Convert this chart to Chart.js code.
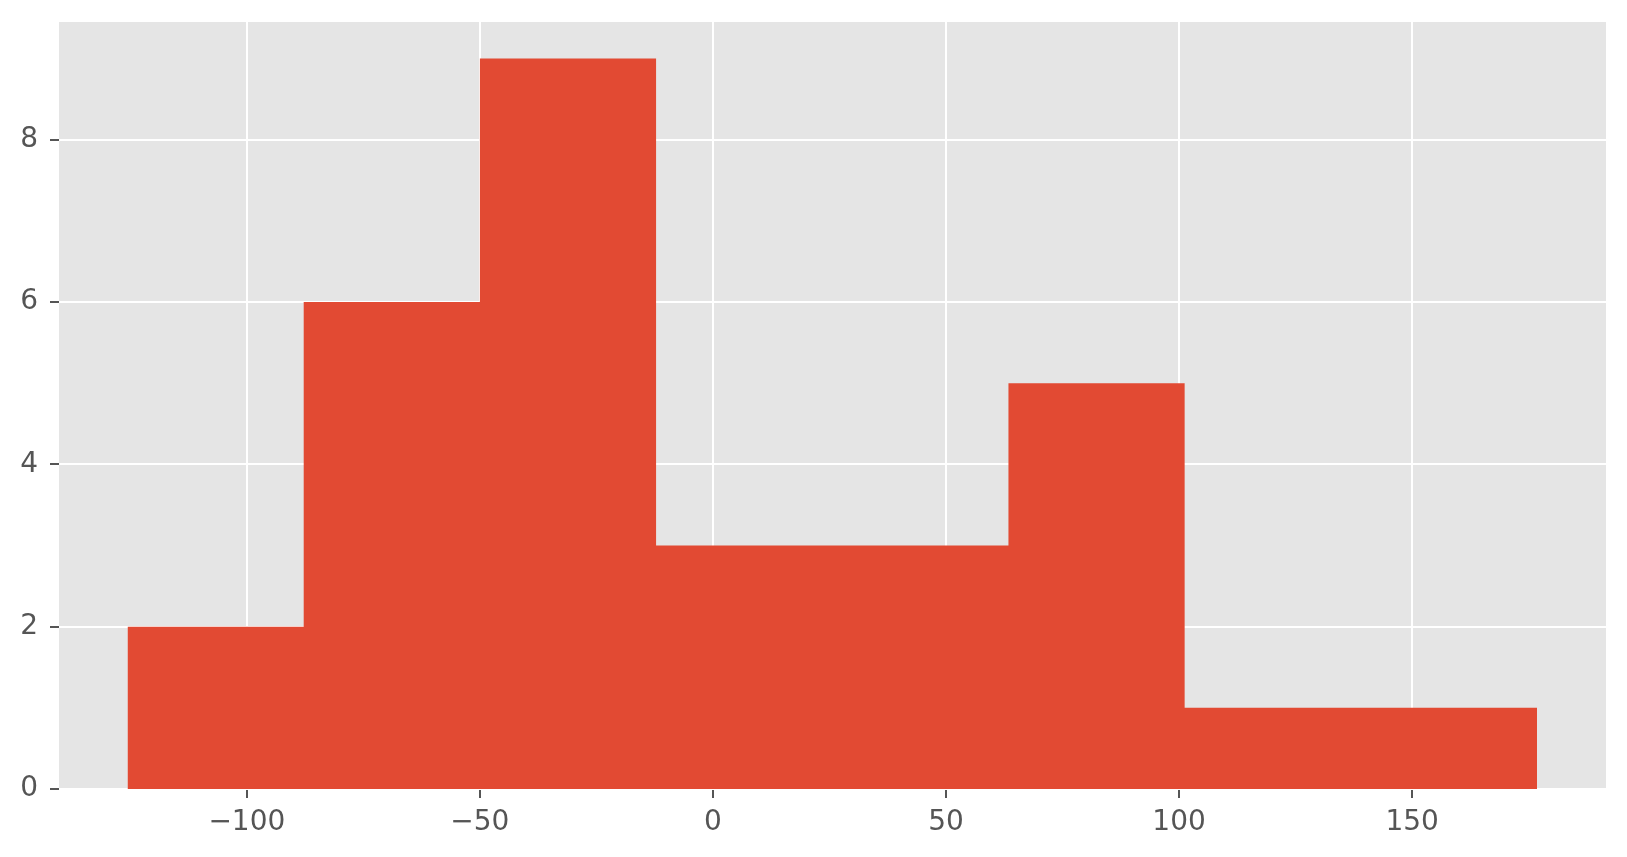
<!DOCTYPE html>
<html>
<head>
<meta charset="utf-8">
<script src="https://cdn.jsdelivr.net/npm/chart.js@4/dist/chart.umd.min.js"></script>
<style>
    html, body { margin: 0; padding: 0; background: #ffffff; }
    #wrap { width: 1627px; height: 857px; }
</style>
</head>
<body>
<div id="wrap"><canvas id="histChart" width="1627" height="857"></canvas></div>
<script>
// histogram bins (edges) and counts
const binEdges = [-125.6, -87.8, -50.0, -12.2, 25.6, 63.4, 101.2, 139.0, 176.8];
const binCounts = [2, 6, 9, 3, 3, 5, 1, 1];
const xTicks = [-100, -50, 0, 50, 100, 150];
const yTicks = [0, 2, 4, 6, 8];

// step outline of the histogram: up from the first edge, across each bin, back down
const outline = [{ x: binEdges[0], y: 0 }];
binCounts.forEach((c, i) => outline.push({ x: binEdges[i], y: c }));
outline.push({ x: binEdges[binEdges.length - 1], y: 0 });

const panelBg = {
    id: 'panelBg',
    beforeDraw(chart) {
        const { ctx, chartArea: a } = chart;
        ctx.save();
        ctx.fillStyle = '#E5E5E5';
        ctx.fillRect(a.left, a.top, a.right - a.left, a.bottom - a.top);
        ctx.restore();
    }
};

const tickFont = { family: 'DejaVu Sans', size: 28 };
const fmt = v => (v < 0 ? '\u2212' + Math.abs(v) : String(v));

new Chart(document.getElementById('histChart').getContext('2d'), {
    type: 'line',
    data: {
        datasets: [{
            data: outline,
            stepped: true,
            fill: 'origin',
            backgroundColor: '#E24A33',
            borderColor: 'rgba(0,0,0,0)',
            borderWidth: 0,
            pointRadius: 0,
            tension: 0
        }]
    },
    options: {
        responsive: false,
        animation: false,
        layout: { padding: { top: 22, right: 21, left: 0, bottom: 0 } },
        plugins: { legend: { display: false }, tooltip: { enabled: false } },
        scales: {
            x: {
                type: 'linear',
                min: -140.3,
                max: 191.6,
                afterFit: s => { s.height = 68; s.paddingLeft = 0; s.paddingRight = 0; },
                afterBuildTicks: s => { s.ticks = xTicks.map(v => ({ value: v })); },
                grid: { color: '#ffffff', lineWidth: 2, tickColor: '#555555', tickLength: 9, tickWidth: 2 },
                border: { display: false },
                ticks: { color: '#555555', font: tickFont, padding: 8, maxRotation: 0, callback: fmt }
            },
            y: {
                min: 0,
                max: 9.45,
                afterFit: s => { s.width = 59; s.paddingTop = 0; s.paddingBottom = 0; },
                afterBuildTicks: s => { s.ticks = yTicks.map(v => ({ value: v })); },
                grid: { color: '#ffffff', lineWidth: 2, tickColor: '#555555', tickLength: 9, tickWidth: 2 },
                border: { display: false },
                ticks: { color: '#555555', font: tickFont, padding: 12, callback: fmt }
            }
        }
    },
    plugins: [panelBg]
});
</script>
</body>
</html>
